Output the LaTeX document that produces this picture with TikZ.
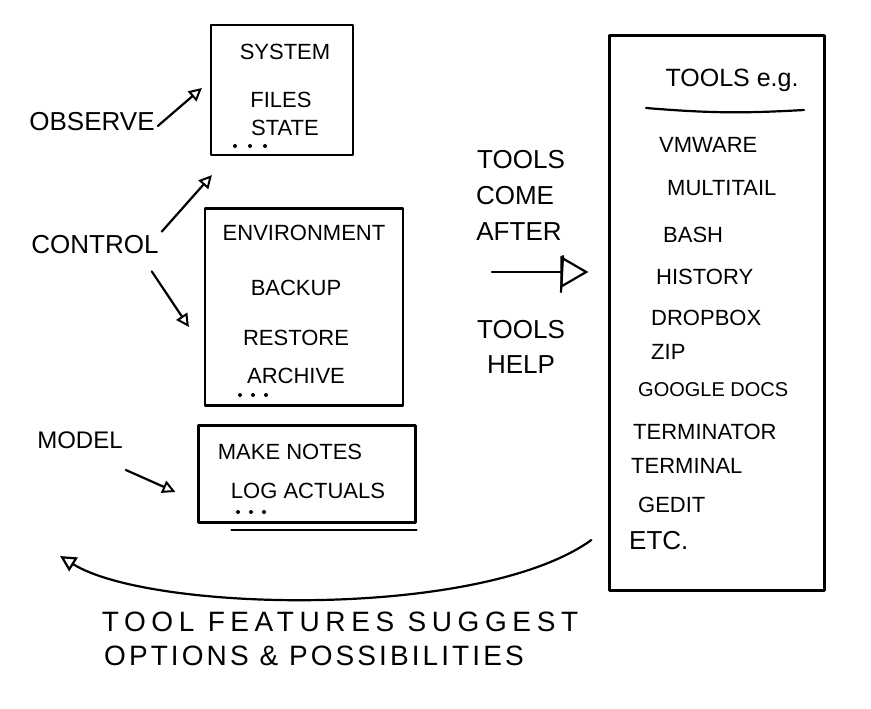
\documentclass[tikz,border=0pt]{standalone}
\usepackage{fontspec}
\setmainfont{Liberation Sans}
\usetikzlibrary{arrows.meta,calc}
\begin{document}
\begin{tikzpicture}[x=1pt,y=-1pt,
  ink/.style={line width=2.2pt,line cap=round,line join=round},
  boxnode/.style={ink,draw,inner sep=0pt},
  lbl/.style={font=\fontsize{26}{30}\selectfont,inner sep=1pt},
  item/.style={font=\fontsize{22}{26}\selectfont,inner sep=1pt},
  tool/.style={font=\fontsize{22}{26}\selectfont,inner sep=1pt,anchor=west},
  arr/.style={ink,-{Triangle[open,length=13pt,width=13pt,line width=2pt]}},
  bigarr/.style={ink,-{Triangle[open,length=28pt,width=32pt,line width=2.2pt]}}]
\useasboundingbox (0,0) rectangle (871,709);
\fill[white] (0,0) rectangle (871,709);

% boxes
\node[boxnode,minimum width=142pt,minimum height=130pt] (box1) at (282,90) {};
\node[boxnode,minimum width=198pt,minimum height=197pt] (box2) at (304,307) {};
\node[boxnode,minimum width=217pt,minimum height=97pt] (box3) at (307,474) {};
\node[boxnode,minimum width=215pt,minimum height=555pt] (rbox) at (717,313) {};
\draw[ink] ([xshift=34pt,yshift=-6pt]box3.south west) -- ([yshift=-6pt]box3.south east);

% box 1 text
\node[item] (system) at (285,52) {SYSTEM};
\node[item] (files) at (281,100) {FILES};
\node[item] (state) at (285,128) {STATE};
\foreach \x in {235,250,265} \fill (\x,146) circle (2pt);

% box 2 text
\node[item] (env) at (304,233) {ENVIRONMENT};
\node[item] (backup) at (296,288) {BACKUP};
\node[item] (restore) at (296,338) {RESTORE};
\node[item] (archive) at (296,376) {ARCHIVE};
\foreach \x in {240,253,266} \fill (\x,395) circle (2pt);

% box 3 text
\node[item] (notes) at (290,452) {MAKE NOTES};
\node[item] (log) at (308,491) {LOG ACTUALS};
\foreach \x in {238,251,264} \fill (\x,512) circle (2pt);

% left labels
\node[lbl] (observe) at (92,122) {OBSERVE};
\node[lbl] (control) at (95,245) {CONTROL};
\node[lbl,font=\fontsize{24}{28}\selectfont] (model) at (80,440) {MODEL};

\draw[arr] ([xshift=2pt,yshift=-4pt]observe.east) -- ([xshift=-8pt,yshift=2pt]box1.west);
\draw[arr] ([xshift=2pt,yshift=3pt]control.north east) -- ([xshift=2pt,yshift=-19pt]box1.south west);
\draw[arr] ([xshift=-8pt,yshift=-16pt]control.south east) -- ([xshift=-15pt,yshift=-20pt]box2.west);
\draw[arr] ([xshift=2pt,yshift=-30pt]model.east) -- ([xshift=-22pt,yshift=-18pt]box3.west);

% middle text
\node[lbl] (tools1) at (521,160) {TOOLS};
\node[lbl] (come) at (515,196) {COME};
\node[lbl] (after) at (519,232) {AFTER};
\node[lbl] (tools2) at (521,330) {TOOLS};
\node[lbl] (help) at (521,365) {HELP};
\coordinate (ta) at (492,272);
\draw[bigarr,shorten >=20pt] (ta) -- (ta -| rbox.west);
\draw[ink] (563,256) -- (561,292);

% right box text
\node[font=\fontsize{25}{30}\selectfont,inner sep=1pt] (tooleg) at (732,80) {TOOLS e.g.};
\draw[ink] (646,108) to[bend right=4] (804,110);
\node[tool] (vmware) at (658,145) {VMWARE};
\node[tool] (multitail) at (666,188) {MULTITAIL};
\node[tool] (bash) at (662,235) {BASH};
\node[tool] (history) at (655,277) {HISTORY};
\node[tool] (dropbox) at (650,318) {DROPBOX};
\node[tool] (zip) at (650,352) {ZIP};
\node[tool,font=\fontsize{20}{24}\selectfont] (gdocs) at (637,390) {GOOGLE DOCS};
\node[tool] (terminator) at (632,432) {TERMINATOR};
\node[tool] (terminal) at (630,466) {TERMINAL};
\node[tool] (gedit) at (637,505) {GEDIT};
\node[tool,font=\fontsize{26}{30}\selectfont] (etc) at (628,541) {ETC.};

% bottom feedback arrow
\coordinate (fb1) at ([xshift=-17pt,yshift=-227pt]rbox.west);
\coordinate (fb2) at (60,556);
\draw[arr,-{Triangle[open,length=16pt,width=16pt,line width=2.2pt]}] (fb1) .. controls (480,620) and (150,612) .. (fb2);
\node[inner sep=1pt,font=\fontsize{28}{32}\selectfont\addfontfeature{LetterSpace=20}] (feat1) at (340,622) {TOOL FEATURES SUGGEST};
\node[inner sep=1pt,font=\fontsize{28}{32}\selectfont\addfontfeature{LetterSpace=11},anchor=west] (feat2) at (103,656) {OPTIONS \& POSSIBILITIES};
\end{tikzpicture}
\end{document}
